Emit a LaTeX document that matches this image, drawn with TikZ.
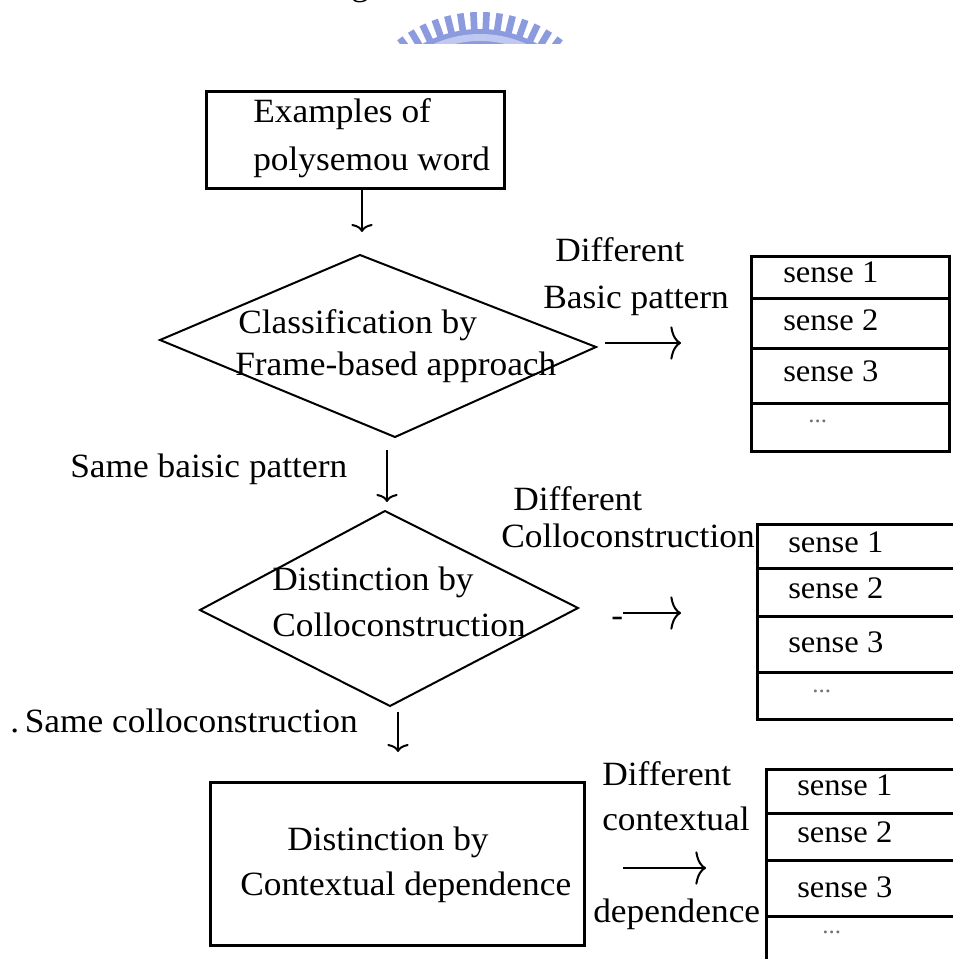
\documentclass[tikz,border=0pt]{standalone}
\usepackage{fontspec}
\setmainfont[FakeStretch=1.04]{Liberation Serif}
\usetikzlibrary{arrows.meta}

\definecolor{embA}{RGB}{140,155,222}
\definecolor{embB}{RGB}{190,200,240}

\begin{document}
\begin{tikzpicture}[x=0.75pt,y=-0.75pt,
  txt/.style={inner sep=0pt,anchor=base west,font=\fontsize{25.5}{30}\selectfont},
  sns/.style={inner sep=0pt,anchor=base west,font=\fontsize{23.5}{28}\selectfont},
  dots/.style={inner sep=0pt,anchor=base west,text=black!55,font=\fontsize{18}{20}\selectfont},
  boxnode/.style={draw,line width=2.25pt,inner sep=0pt},
  rowcell/.style={draw,line width=2.25pt,inner sep=0pt,anchor=north west,minimum width=#1},
  dia/.style={line width=1.5pt,line join=miter},
  varr/.style={line width=1.5pt,-{Computer Modern Rightarrow[length=6pt,width=16pt]}},
  harr/.style={line width=1.5pt,-{Computer Modern Rightarrow[length=8pt,width=25pt]}}]

\useasboundingbox (0,0) rectangle (952,959);
\fill[white] (0,0) rectangle (952,959);

% emblem at the top, only its upper rim shows
\begin{scope}
  \clip (0,0) rectangle (952,44);
  \begin{scope}[shift={(480,147)}]
    \fill[embA,even odd rule] (0,0) circle[radius=118] (0,0) circle[radius=100];
    \fill[embB,even odd rule] (0,0) circle[radius=113] (0,0) circle[radius=106];
    \foreach \a in {-132,-126.4,...,-47} \draw[embA,line width=5pt] (\a:116) -- (\a:135);
  \end{scope}
\end{scope}

% tail of the caption line above
\node[txt] (capg) at (351,-4) {g};

% first step
\node[boxnode,minimum width=223.5pt,minimum height=72.75pt] (box1) at (355,140.5) {};
\node[txt] (ex1) at (253,123) {Examples of};
\node[txt] (ex2) at (253,171) {polysemou word};

\coordinate (a1e) at (362,232);
\draw[varr] (a1e |- box1.south) -- (a1e);

% first decision
\coordinate (d1t) at (360,255);
\coordinate (d1r) at (596,347);
\coordinate (d1b) at (395,437);
\coordinate (d1l) at (160,340);
\draw[dia] (d1t) -- (d1r) -- (d1b) -- (d1l) -- cycle;
\node[txt] (c1) at (238,333) {Classification by};
\node[txt] (c2) at (235,375) {Frame-based approach};

\node[txt] (l1a) at (555,262) {Different};
\node[txt] (l1b) at (543,308) {Basic pattern};
\coordinate (h1s) at (605,343);
\coordinate (h1e) at (681,343);
\draw[harr] (h1s) -- (h1e);

% first list of senses
\node[rowcell=148.5pt,minimum height=31.5pt] (r11) at (750,255) {};
\node[rowcell=148.5pt,minimum height=37.5pt] (r12) at (750,297) {};
\node[rowcell=148.5pt,minimum height=41.25pt] (r13) at (750,347) {};
\node[rowcell=148.5pt,minimum height=36pt] (r14) at (750,402) {};
\node[sns] (s11) at (783,282) {sense 1};
\node[sns] (s12) at (783,330) {sense 2};
\node[sns] (s13) at (783,381) {sense 3};
\node[dots] (s14) at (808,422) {...};

% second step
\node[txt] (same1) at (70,477) {Same baisic pattern};
\coordinate (a2s) at (387,450);
\coordinate (a2e) at (387,502);
\draw[varr] (a2s) -- (a2e);

\coordinate (d2t) at (385,511);
\coordinate (d2r) at (578,608);
\coordinate (d2b) at (390,706);
\coordinate (d2l) at (200,610);
\draw[dia] (d2t) -- (d2r) -- (d2b) -- (d2l) -- cycle;
\node[txt] (e1) at (272,590) {Distinction by};
\node[txt] (e2) at (272,636) {Colloconstruction};

\node[txt] (l2a) at (513,510) {Different};
\node[txt] (l2b) at (501,547) {Colloconstruction};
\node[txt] (l2dash) at (611,626) {-};
\coordinate (h2s) at (623,613);
\coordinate (h2e) at (681,613);
\draw[harr] (h2s) -- (h2e);

% second list of senses
\node[rowcell=153.75pt,minimum height=33pt] (r21) at (756,523) {};
\node[rowcell=153.75pt,minimum height=36pt] (r22) at (756,567) {};
\node[rowcell=153.75pt,minimum height=42pt] (r23) at (756,615) {};
\node[rowcell=153.75pt,minimum height=35.25pt] (r24) at (756,671) {};
\node[sns] (s21) at (788,552) {sense 1};
\node[sns] (s22) at (788,598) {sense 2};
\node[sns] (s23) at (788,652) {sense 3};
\node[dots] (s24) at (812,692) {...};

% third step
\node[txt] (same2) at (10,732) {.\,Same colloconstruction};
\coordinate (a3s) at (398,712);
\coordinate (a3e) at (398,752);
\draw[varr] (a3s) -- (a3e);

\node[boxnode,minimum width=280.5pt,minimum height=122.25pt] (box3) at (397,863.5) {};
\node[txt] (f1) at (287,850) {Distinction by};
\node[txt] (f2) at (240,895) {Contextual dependence};

\node[txt] (l3a) at (602,785) {Different};
\node[txt] (l3b) at (602,830) {contextual};
\node[txt] (l3c) at (593,922) {dependence};
\coordinate (h3s) at (623,868);
\coordinate (h3e) at (706,868);
\draw[harr] (h3s) -- (h3e);

% third list of senses
\node[rowcell=150pt,minimum height=33pt] (r31) at (765,768) {};
\node[rowcell=150pt,minimum height=35.25pt] (r32) at (765,812) {};
\node[rowcell=150pt,minimum height=42pt] (r33) at (765,859) {};
\node[rowcell=150pt,minimum height=45pt] (r34) at (765,915) {};
\node[sns] (s31) at (797,795) {sense 1};
\node[sns] (s32) at (797,842) {sense 2};
\node[sns] (s33) at (797,897) {sense 3};
\node[dots] (s34) at (822,933) {...};

\end{tikzpicture}
\end{document}
